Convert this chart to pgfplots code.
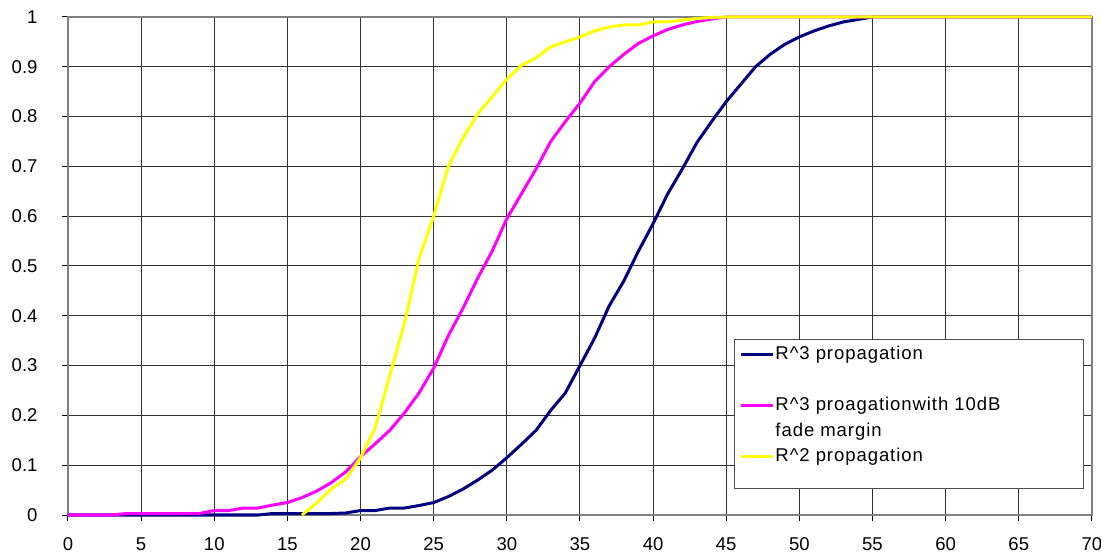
\documentclass[border=0pt]{standalone}
\usepackage{pgfplots}
\pgfplotsset{compat=1.18}
\usepackage{fontspec}
\setmainfont{Liberation Sans}
\newfontfamily\legfont[LetterSpace=5]{Liberation Sans}
\definecolor{cblue}{RGB}{0,0,128}
\definecolor{cmag}{RGB}{255,0,255}
\definecolor{cyel}{RGB}{255,255,0}
\pgfplotstableread{
x y
0 0
1 0
2 0
3 0
4 0
5 0
6 0
7 0
8 0
9 0
10 0
11 0
12 0
13 0
14 0.003
15 0.003
16 0.003
17 0.003
18 0.003
19 0.004
20 0.009
21 0.009
22 0.014
23 0.014
24 0.019
25 0.025
26 0.037
27 0.052
28 0.07
29 0.09
30 0.115
31 0.142
32 0.17
33 0.21
34 0.245
35 0.3
36 0.355
37 0.42
38 0.47
39 0.53
40 0.585
41 0.645
42 0.695
43 0.748
44 0.79
45 0.83
46 0.865
47 0.9
48 0.925
49 0.945
50 0.96
51 0.972
52 0.982
53 0.99
54 0.995
55 1
56 1
57 1
58 1
59 1
60 1
61 1
62 1
63 1
64 1
65 1
66 1
67 1
68 1
69 1
70 1
}\rthree
\pgfplotstableread{
x y
0 0
1 0
2 0
3 0
4 0.003
5 0.003
6 0.003
7 0.003
8 0.003
9 0.003
10 0.009
11 0.009
12 0.014
13 0.014
14 0.02
15 0.025
16 0.035
17 0.048
18 0.065
19 0.087
20 0.117
21 0.143
22 0.17
23 0.205
24 0.245
25 0.295
26 0.36
27 0.415
28 0.475
29 0.53
30 0.595
31 0.645
32 0.695
33 0.75
34 0.79
35 0.827
36 0.87
37 0.9
38 0.925
39 0.947
40 0.962
41 0.975
42 0.984
43 0.991
44 0.996
45 1
46 1
47 1
48 1
49 1
50 1
51 1
52 1
53 1
54 1
55 1
56 1
57 1
58 1
59 1
60 1
61 1
62 1
63 1
64 1
65 1
66 1
67 1
68 1
69 1
70 1
}\rthreefade
\pgfplotstableread{
x y
16 0
17 0.024
18 0.052
19 0.073
20 0.115
21 0.175
22 0.28
23 0.385
24 0.515
25 0.6
26 0.7
27 0.757
28 0.805
29 0.84
30 0.875
31 0.903
32 0.918
33 0.94
34 0.95
35 0.96
36 0.972
37 0.98
38 0.984
39 0.984
40 0.99
41 0.99
42 0.994
43 0.997
44 0.999
45 1
46 1
47 1
48 1
49 1
50 1
51 1
52 1
53 1
54 1
55 1
56 1
57 1
58 1
59 1
60 1
61 1
62 1
63 1
64 1
65 1
66 1
67 1
68 1
69 1
70 1
}\rtwo
\begin{document}
\begin{tikzpicture}
\useasboundingbox (-68bp,-41bp) rectangle (1033bp,515bp);
\begin{axis}[
  at={(0,0)}, anchor=south west,
  scale only axis,
  width=1024bp, height=498bp,
  xmin=0, xmax=70, ymin=0, ymax=1,
  clip=false,
  xtick={0,5,10,15,20,25,30,35,40,45,50,55,60,65,70},
  xticklabels={0,5,10,15,20,25,30,35,40,45,50,55,60,65,70},
  ytick={0,0.1,0.2,0.3,0.4,0.5,0.6,0.7,0.8,0.9,1},
  yticklabels={0,0.1,0.2,0.3,0.4,0.5,0.6,0.7,0.8,0.9,1},
  grid=major,
  major grid style={black!80, line width=1bp},
  axis line style={black!50, line width=2.5bp},
  tick style={black, line width=1bp},
  tick align=outside,
  major tick length=6bp,
  xtick pos=bottom, ytick pos=left,
  tick label style={font=\fontsize{18.6}{22}\selectfont},
  yticklabel style={xshift=-21bp},
  xticklabel style={yshift=-13bp},
  legend cell align=left,
  legend style={
    at={(axis cs:45.53,0.0522)}, anchor=south west,
    draw=black!70, line width=1bp, fill=white,
    font=\fontsize{18.6}{21}\selectfont\legfont,
    inner xsep=5bp, inner ysep=2.25bp,
    row sep=0bp,
    nodes={inner xsep=1.5bp, inner ysep=0bp, text height=17.75bp, text depth=7.75bp},
  },
  legend image code/.code={\draw[#1, line width=2.5bp] (0bp,0bp) -- (32bp,0bp);},
]
\addplot[cblue, line width=3bp] table[x=x,y=y] {\rthree};
\addlegendentry{\makebox[302bp][l]{R\^{}3 propagation}}
\addlegendimage{empty legend}
\addlegendentry{}
\addplot[cmag, line width=3bp] table[x=x,y=y] {\rthreefade};
\addlegendentry{R\^{}3 proagationwith 10dB}
\addlegendimage{empty legend}
\addlegendentry{fade margin}
\addplot[cyel, line width=3bp] table[x=x,y=y] {\rtwo};
\addlegendentry{R\^{}2 propagation}
\addlegendimage{empty legend}
\addlegendentry[text height=0bp, text depth=17bp]{}
\end{axis}
\end{tikzpicture}
\end{document}
